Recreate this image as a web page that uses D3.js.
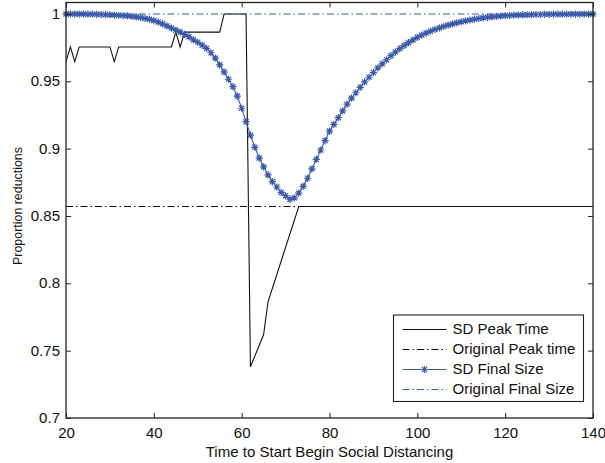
<!DOCTYPE html>
<html>
<head>
<meta charset="utf-8">
<script src="https://cdn.jsdelivr.net/npm/d3@7"></script>
<style>
  html, body { margin: 0; padding: 0; background: #fff; }
  svg { display: block; font-family: "Liberation Sans", Arial, Helvetica, sans-serif; }
</style>
</head>
<body>
<svg id="chart" width="605" height="463"></svg>
<script>
// Start day of social distancing (one sample per day) for the final-size curve
const days = d3.range(20, 141);

// Final size under social distancing, relative to the original epidemic
const sdFinalSize = [
  1.0000, 1.0000, 0.9999, 0.9999, 0.9999, 0.9998, 0.9998, 0.9997, 0.9996, 0.9995,   // 20-29
  0.9994, 0.9992, 0.9990, 0.9988, 0.9985, 0.9982, 0.9978, 0.9973, 0.9967, 0.9960,   // 30-39
  0.9951, 0.9940, 0.9927, 0.9911, 0.9895, 0.9880, 0.9865, 0.9848, 0.9830, 0.9808,   // 40-49
  0.9790, 0.9768, 0.9745, 0.9712, 0.9672, 0.9622, 0.9570, 0.9515, 0.9460, 0.9390,   // 50-59
  0.9300, 0.9200, 0.9100, 0.9010, 0.8930, 0.8865, 0.8805, 0.8755, 0.8715, 0.8675,   // 60-69
  0.8650, 0.8625, 0.8635, 0.8670, 0.8720, 0.8780, 0.8850, 0.8920, 0.8990, 0.9060,   // 70-79
  0.9130, 0.9180, 0.9230, 0.9280, 0.9330, 0.9375, 0.9415, 0.9455, 0.9495, 0.9530,   // 80-89
  0.9565, 0.9600, 0.9630, 0.9660, 0.9690, 0.9717, 0.9742, 0.9765, 0.9787, 0.9807,   // 90-99
  0.9826, 0.9843, 0.9858, 0.9872, 0.9885, 0.9896, 0.9907, 0.9917, 0.9926, 0.9934,   // 100-109
  0.9942, 0.9949, 0.9955, 0.9961, 0.9966, 0.9971, 0.9975, 0.9979, 0.9982, 0.9985,   // 110-119
  0.9987, 0.9989, 0.9991, 0.9992, 0.9993, 0.9994, 0.9995, 0.9996, 0.9996, 0.9997,   // 120-129
  0.9997, 0.9998, 0.9998, 0.9998, 0.9998, 0.9999, 0.9999, 0.9999, 0.9999, 0.9999,   // 130-139
  0.9999                                                                            // 140
];

// Peak time under social distancing (vertices of the piecewise-linear curve)
const peakDays = [20, 21, 22, 23, 30, 31, 32, 44, 45, 46, 47, 55, 56, 61, 62, 65, 66, 73, 140];
const sdPeakTime = [
  0.9646, 0.9755, 0.9646, 0.9755, 0.9755, 0.9646, 0.9755, 0.9755, 0.9865, 0.9755,
  0.9865, 0.9865, 1.0000, 1.0000, 0.7380, 0.7620, 0.7863, 0.8570, 0.8570
];

// Reference levels without social distancing
const originalPeakTime = 0.857;
const originalFinalSize = 1.0;

const xTicks = [20, 40, 60, 80, 100, 120, 140];
const yTicks = [0.7, 0.75, 0.8, 0.85, 0.9, 0.95, 1];

const legendLabels = ["SD Peak Time", "Original Peak time", "SD Final Size", "Original Final Size"];

const blue = "#3a5aa8";
const black = "#111";
const dashDot = "7,3,1.5,3";

// Text is set slightly wide, like the printed Helvetica of the figure
const fontSize = 13.8;
const stretch = 1.09;

const svg = d3.select("#chart");
const plotLeft = 66, plotRight = 593, plotTop = 2.5, plotBottom = 418;

const x = d3.scaleLinear().domain([20, 140]).range([plotLeft, plotRight]);
const y = d3.scaleLinear().domain([0.7, 1.0085]).range([plotBottom, plotTop]);

const plot = svg.append("g");
plot.append("clipPath").attr("id", "clip")
  .append("rect").attr("x", plotLeft).attr("y", plotTop)
  .attr("width", plotRight - plotLeft).attr("height", plotBottom - plotTop);

const lines = plot.append("g").attr("clip-path", "url(#clip)");

// SD Peak Time
lines.append("path")
  .datum(peakDays.map((d, i) => [d, sdPeakTime[i]]))
  .attr("fill", "none").attr("stroke", black).attr("stroke-width", 1.1)
  .attr("d", d3.line().x(d => x(d[0])).y(d => y(d[1])));

// Original Peak time
lines.append("line")
  .attr("x1", x(20)).attr("x2", x(140))
  .attr("y1", y(originalPeakTime)).attr("y2", y(originalPeakTime))
  .attr("stroke", black).attr("stroke-width", 1.1).attr("stroke-dasharray", dashDot);

// SD Final Size line + star markers
lines.append("path")
  .datum(days.map((d, i) => [d, sdFinalSize[i]]))
  .attr("fill", "none").attr("stroke", blue).attr("stroke-width", 1.1)
  .attr("d", d3.line().x(d => x(d[0])).y(d => y(d[1])));

function starPath(r) {
  const k = r * 0.72;
  return `M${-r},0L${r},0M0,${-r}L0,${r}M${-k},${-k}L${k},${k}M${-k},${k}L${k},${-k}`;
}

plot.append("g")
  .selectAll("path")
  .data(days.map((d, i) => [d, sdFinalSize[i]]))
  .join("path")
  .attr("transform", d => `translate(${x(d[0])},${y(d[1])})`)
  .attr("d", starPath(3.6))
  .attr("fill", "none").attr("stroke", blue).attr("stroke-width", 1.2);

// Original Final Size
lines.append("line")
  .attr("x1", x(20)).attr("x2", x(140))
  .attr("y1", y(originalFinalSize)).attr("y2", y(originalFinalSize))
  .attr("stroke", blue).attr("stroke-width", 1.1).attr("stroke-dasharray", dashDot);

// Axes: ticks inside, mirrored on top and right
const axisColor = "#222";
const tickLen = 5;

const xAxisB = d3.axisBottom(x).tickValues(xTicks).tickSize(-tickLen).tickPadding(10).tickFormat(d3.format("d"));
const xAxisT = d3.axisTop(x).tickValues(xTicks).tickSize(-tickLen).tickFormat("");
const yAxisL = d3.axisLeft(y).tickValues(yTicks).tickSize(-tickLen).tickPadding(5.5).tickFormat(d => String(+d.toFixed(2)));
const yAxisR = d3.axisRight(y).tickValues(yTicks).tickSize(-tickLen).tickFormat("");

function styleAxis(g) {
  g.select(".domain").remove();
  g.selectAll(".tick line").attr("stroke", axisColor).attr("stroke-width", 1);
  g.selectAll(".tick text").attr("fill", "#111").attr("font-size", fontSize)
    .attr("font-family", '"Liberation Sans", Arial, sans-serif')
    .attr("transform", `scale(${stretch},1)`);
}

svg.append("g").attr("transform", `translate(0,${plotBottom})`).call(xAxisB).call(styleAxis);
svg.append("g").attr("transform", `translate(0,${plotTop})`).call(xAxisT).call(styleAxis);
svg.append("g").attr("transform", `translate(${plotLeft},0)`).call(yAxisL).call(styleAxis);
svg.append("g").attr("transform", `translate(${plotRight},0)`).call(yAxisR).call(styleAxis);

// Box
svg.append("rect")
  .attr("x", plotLeft).attr("y", plotTop)
  .attr("width", plotRight - plotLeft).attr("height", plotBottom - plotTop)
  .attr("fill", "none").attr("stroke", axisColor).attr("stroke-width", 1.3);

// Axis titles
svg.append("text")
  .attr("transform", `translate(${(plotLeft + plotRight) / 2},457) scale(${stretch},1)`)
  .attr("text-anchor", "middle").attr("font-size", fontSize).attr("fill", "#111")
  .text("Time to Start Begin Social Distancing");

svg.append("text")
  .attr("transform", `translate(22,206) rotate(-90) scale(1,${stretch})`)
  .attr("text-anchor", "middle").attr("font-size", 12.4).attr("fill", "#111")
  .text("Proportion reductions");

// Legend
const lgX = 393.5, lgY = 315, lgW = 190, lgH = 86.5, rowH = 20;
const legend = svg.append("g");
legend.append("rect")
  .attr("x", lgX).attr("y", lgY).attr("width", lgW).attr("height", lgH)
  .attr("fill", "#fff").attr("stroke", axisColor).attr("stroke-width", 1.1);

const legendStyles = [
  { color: black, dash: null, star: false },
  { color: black, dash: dashDot, star: false },
  { color: blue, dash: null, star: true },
  { color: blue, dash: dashDot, star: false }
];

legendLabels.forEach((label, i) => {
  const cy = lgY + 14.5 + i * rowH;
  const s = legendStyles[i];
  const ln = legend.append("line")
    .attr("x1", lgX + 9).attr("x2", lgX + 53).attr("y1", cy).attr("y2", cy)
    .attr("stroke", s.color).attr("stroke-width", 1.1);
  if (s.dash) ln.attr("stroke-dasharray", s.dash);
  if (s.star) {
    legend.append("path")
      .attr("transform", `translate(${lgX + 31},${cy})`)
      .attr("d", starPath(3.6))
      .attr("fill", "none").attr("stroke", s.color).attr("stroke-width", 1.2);
  }
  legend.append("text")
    .attr("transform", `translate(${lgX + 59},${cy}) scale(${stretch},1)`)
    .attr("dy", "0.36em")
    .attr("font-size", fontSize).attr("fill", "#111")
    .text(label);
});
</script>
</body>
</html>
